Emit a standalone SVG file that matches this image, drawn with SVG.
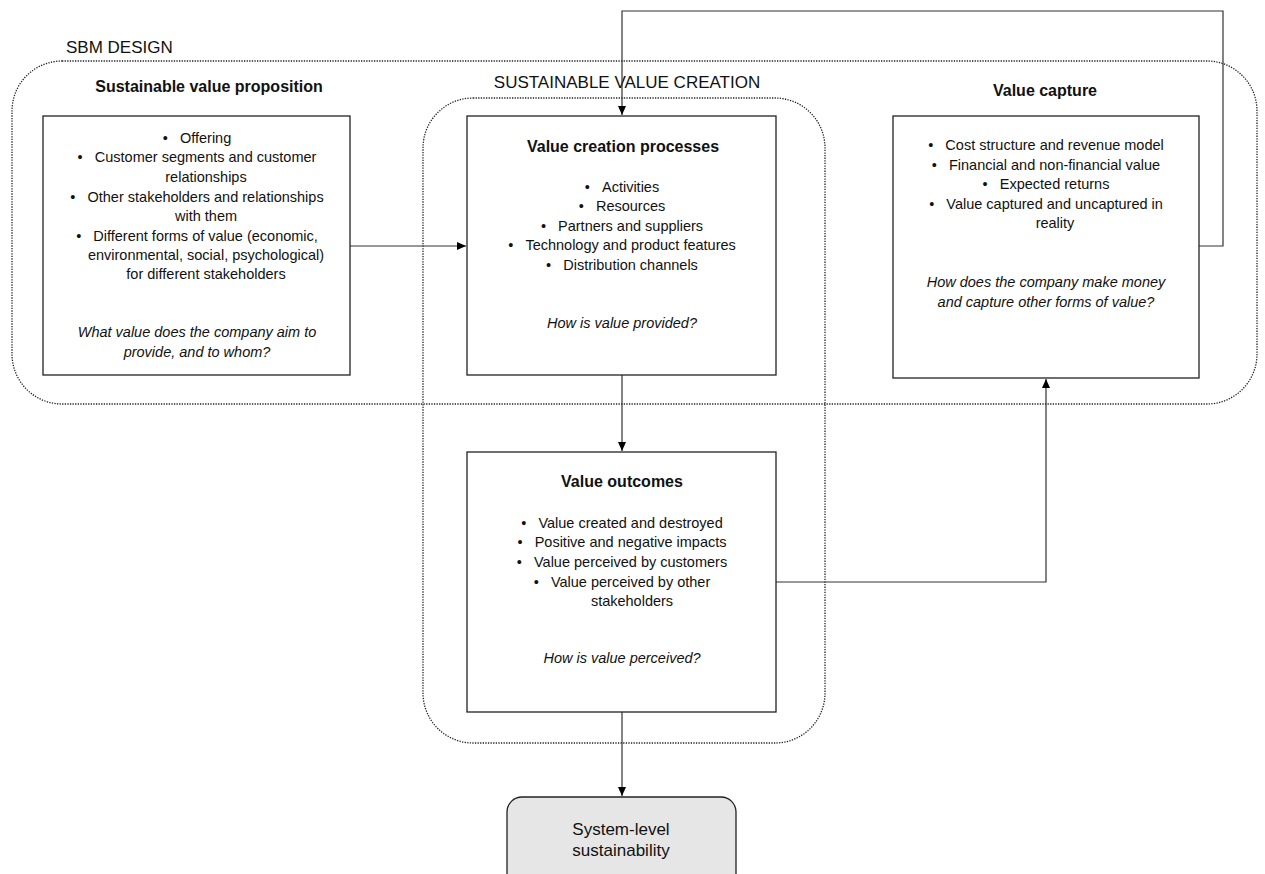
<svg xmlns="http://www.w3.org/2000/svg" width="1265" height="874" viewBox="0 0 1265 874">
<style>
text{font-family:"Liberation Sans",Arial,sans-serif;fill:#111;}
.lbl{font-size:17px;}
.ttl{font-size:16px;font-weight:bold;text-anchor:middle;}
.b{font-size:14.5px;text-anchor:middle;}
.i{font-size:14.5px;font-style:italic;text-anchor:middle;}
.box{fill:#fff;stroke:#222;stroke-width:1.3;}
.grp{fill:none;stroke:#222;stroke-width:1.3;stroke-dasharray:1.3 1.3;}
.con{fill:none;stroke:#333;stroke-width:1.2;}
.sys{fill:#e6e6e6;stroke:#222;stroke-width:1.3;}
</style>
<defs>
<marker id="arr" markerWidth="10" markerHeight="10" refX="9" refY="4" orient="auto" markerUnits="userSpaceOnUse">
<path d="M0,0 L9,4 L0,8 Z" fill="#000"/>
</marker>
</defs>
<rect width="1265" height="874" fill="#fff"/>

<g id="sbm-design">
<rect class="grp" x="12" y="61" width="1245" height="343" rx="50" ry="50"/>
<text class="lbl" x="66" y="53">SBM DESIGN</text>
</g>

<g id="sustainable-value-creation">
<rect class="grp" x="423" y="98" width="402" height="645" rx="50" ry="50"/>
<text class="lbl" x="627" y="88" text-anchor="middle">SUSTAINABLE VALUE CREATION</text>
</g>

<g id="connectors">
<line class="con" x1="350" y1="246" x2="466" y2="246" marker-end="url(#arr)"/>
<line class="con" x1="622" y1="375" x2="622" y2="451" marker-end="url(#arr)"/>
<polyline class="con" points="776,582 1046,582 1046,379" marker-end="url(#arr)"/>
<polyline class="con" points="1199,246 1223,246 1223,11 622,11 622,115" marker-end="url(#arr)"/>
<line class="con" x1="622" y1="712" x2="622" y2="796" marker-end="url(#arr)"/>
</g>

<g id="value-proposition">
<text class="ttl" x="209" y="92">Sustainable value proposition</text>
<rect class="box" x="43" y="116" width="307" height="259"/>
<text class="b" x="197" y="143">•&#160;&#160;&#160;Offering</text>
<text class="b" x="197" y="162">•&#160;&#160;&#160;Customer segments and customer</text>
<text class="b" x="206" y="182">relationships</text>
<text class="b" x="197" y="202">•&#160;&#160;&#160;Other stakeholders and relationships</text>
<text class="b" x="206" y="221">with them</text>
<text class="b" x="197" y="241">•&#160;&#160;&#160;Different forms of value (economic,</text>
<text class="b" x="206" y="260">environmental, social, psychological)</text>
<text class="b" x="206" y="279">for different stakeholders</text>
<text class="i" x="197" y="337">What value does the company aim to</text>
<text class="i" x="197" y="357">provide, and to whom?</text>
</g>

<g id="value-creation-processes">
<rect class="box" x="467" y="116" width="309" height="259"/>
<text class="ttl" x="623" y="152">Value creation processes</text>
<text class="b" x="622" y="192">•&#160;&#160;&#160;Activities</text>
<text class="b" x="622" y="211">•&#160;&#160;&#160;Resources</text>
<text class="b" x="622" y="231">•&#160;&#160;&#160;Partners and suppliers</text>
<text class="b" x="622" y="250">•&#160;&#160;&#160;Technology and product features</text>
<text class="b" x="622" y="270">•&#160;&#160;&#160;Distribution channels</text>
<text class="i" x="622" y="328">How is value provided?</text>
</g>

<g id="value-capture">
<text class="ttl" x="1045" y="96">Value capture</text>
<rect class="box" x="893" y="116" width="306" height="262"/>
<text class="b" x="1046" y="150">•&#160;&#160;&#160;Cost structure and revenue model</text>
<text class="b" x="1046" y="170">•&#160;&#160;&#160;Financial and non-financial value</text>
<text class="b" x="1046" y="189">•&#160;&#160;&#160;Expected returns</text>
<text class="b" x="1046" y="209">•&#160;&#160;&#160;Value captured and uncaptured in</text>
<text class="b" x="1055" y="228">reality</text>
<text class="i" x="1046" y="287">How does the company make money</text>
<text class="i" x="1046" y="307">and capture other forms of value?</text>
</g>

<g id="value-outcomes">
<rect class="box" x="467" y="452" width="309" height="260"/>
<text class="ttl" x="622" y="487">Value outcomes</text>
<text class="b" x="622" y="528">•&#160;&#160;&#160;Value created and destroyed</text>
<text class="b" x="622" y="547">•&#160;&#160;&#160;Positive and negative impacts</text>
<text class="b" x="622" y="567">•&#160;&#160;&#160;Value perceived by customers</text>
<text class="b" x="622" y="587">•&#160;&#160;&#160;Value perceived by other</text>
<text class="b" x="632" y="606">stakeholders</text>
<text class="i" x="622" y="663">How is value perceived?</text>
</g>

<g id="system-level-sustainability">
<rect class="sys" x="507" y="797" width="229" height="95" rx="15" ry="15"/>
<text class="lbl" x="621" y="835" text-anchor="middle">System-level</text>
<text class="lbl" x="621" y="856" text-anchor="middle">sustainability</text>
</g>
</svg>
